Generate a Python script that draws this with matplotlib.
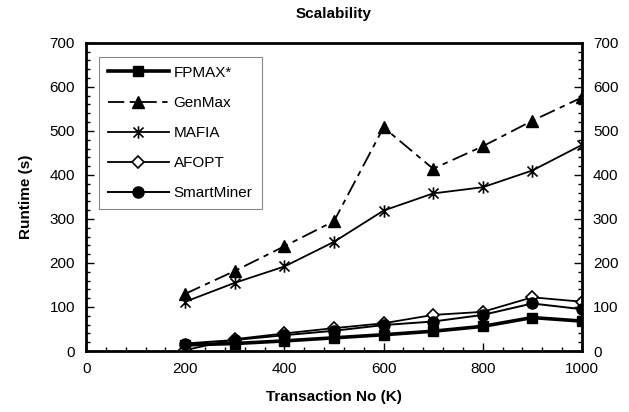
import matplotlib
matplotlib.use('Agg')
import matplotlib.pyplot as plt
from matplotlib.path import Path
from matplotlib.ticker import MultipleLocator

plt.rcParams['font.family'] = ['Liberation Sans', 'DejaVu Sans']

tx = [200, 300, 400, 500, 600, 700, 800, 900, 1000]
fpmax = [14, 17, 23, 30, 37, 45, 56, 76, 68]
genmax = [130, 182, 238, 295, 508, 414, 465, 523, 576]
mafia = [112, 155, 192, 248, 319, 358, 372, 410, 468]
afopt = [2, 27, 40, 52, 63, 82, 89, 122, 112]
smartminer = [17, 25, 36, 46, 59, 67, 82, 108, 95]

# asterisk-like marker: X with a vertical bar
star = Path([(-1, -1), (1, 1), (-1, 1), (1, -1), (0, -1.25), (0, 1.25)],
            [Path.MOVETO, Path.LINETO, Path.MOVETO, Path.LINETO, Path.MOVETO, Path.LINETO])

fig = plt.figure(figsize=(6.29, 4.12), dpi=100)
fig.patch.set_facecolor('#FFFFFF')
ax = fig.add_axes([0.137, 0.148, 0.788, 0.748])

ax.plot(tx, fpmax, '-', color='black', lw=2.6, marker='s', ms=7, label='FPMAX*')
ax.plot(tx, genmax, color='black', lw=1.3, dashes=(9, 3, 3, 3), marker='^', ms=8, label='GenMax')
ax.plot(tx, mafia, '-', color='black', lw=1.3, marker=star, ms=9, mew=1.2, label='MAFIA')
ax.plot(tx, afopt, '-', color='black', lw=1.3, marker='D', ms=6, mfc='white', mew=1.2, label='AFOPT')
ax.plot(tx, smartminer, '-', color='black', lw=1.4, marker='o', ms=8, label='SmartMiner')

ax.set_xlim(0, 1000)
ax.set_ylim(0, 700)
ax.xaxis.set_major_locator(MultipleLocator(200))
ax.xaxis.set_minor_locator(MultipleLocator(40))
ax.yaxis.set_major_locator(MultipleLocator(100))
ax.yaxis.set_minor_locator(MultipleLocator(20))
ax.tick_params(which='both', direction='in', left=True, right=True, bottom=True, top=False,
               labelright=True, labelsize=11, width=1)
ax.tick_params(which='major', length=6, pad=8)
ax.tick_params(which='minor', length=3)
for s in ax.spines.values():
    s.set_linewidth(2)

ax.set_xlabel('Transaction No (K)', fontsize=11, fontweight='bold', labelpad=10)
ax.set_ylabel('Runtime (s)', fontsize=11, fontweight='bold', labelpad=12)
ax.set_title('Scalability', fontsize=11, fontweight='bold', pad=18)

leg = ax.legend(loc='upper left', bbox_to_anchor=(0.01, 0.98), fontsize=11, handlelength=4.0,
                handletextpad=0.3, labelspacing=1.05, borderpad=0.6, fancybox=False, framealpha=1)
leg.get_frame().set_edgecolor('#888888')
leg.get_frame().set_linewidth(0.8)

plt.savefig('out.png', dpi=100, facecolor='white')
